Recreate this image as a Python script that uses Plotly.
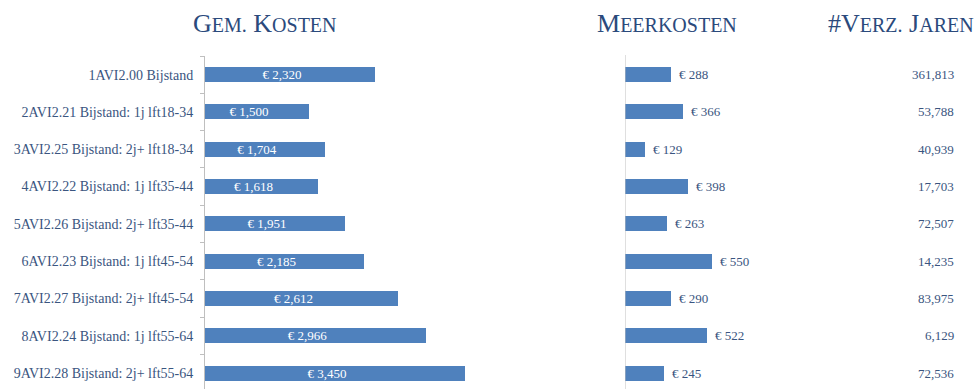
import plotly.graph_objects as go

# Data
categories = [
    "1AVI2.00 Bijstand",
    "2AVI2.21 Bijstand: 1j lft18-34",
    "3AVI2.25 Bijstand: 2j+ lft18-34",
    "4AVI2.22 Bijstand: 1j lft35-44",
    "5AVI2.26 Bijstand: 2j+ lft35-44",
    "6AVI2.23 Bijstand: 1j lft45-54",
    "7AVI2.27 Bijstand: 2j+ lft45-54",
    "8AVI2.24 Bijstand: 1j lft55-64",
    "9AVI2.28 Bijstand: 2j+ lft55-64",
]
gem_kosten = [2320, 1500, 1704, 1618, 1951, 2185, 2612, 2966, 3450]
meerkosten = [288, 366, 129, 398, 263, 550, 290, 522, 245]
verz_jaren = [361813, 53788, 40939, 17703, 72507, 14235, 83975, 6129, 72536]

W, H = 979, 389
FONT = "Liberation Serif"
BAR_COLOR = "#4F81BD"
HEAD_COLOR = "#2B4A7C"
TEXT_COLOR = "#3A5580"
AXIS_COLOR = "#BFBFBF"

# Panel geometry (pixels)
top_px = 56
x1_left, x1_right = 205, 560
x1_start, x1_scale = 200, 0.08          # value at left edge, px per unit
x2_left, x2_right = 625, 800
x2_scale = 0.158
row_h = 37.3


def small_caps(text, big=26, small=20):
    out = []
    for word in text.split(" "):
        lead = ""
        i = 0
        while i < len(word) and not word[i].isalpha():
            lead += word[i]
            i += 1
        if i < len(word):
            lead += word[i].upper()
            rest = word[i + 1:].upper()
        else:
            rest = ""
        piece = f"<span style='font-size:{big}px'>{lead}</span>"
        if rest:
            piece += f"<span style='font-size:{small}px'>{rest}</span>"
        out.append(piece)
    return " ".join(out)


fig = go.Figure()

fig.add_trace(go.Bar(
    x=gem_kosten, y=categories, orientation="h",
    marker=dict(color=BAR_COLOR, line=dict(width=0)),
    width=0.4,
    text=[f"€ {v:,}" for v in gem_kosten],
    textposition="inside", insidetextanchor="middle",
    constraintext="none",
    textfont=dict(family=FONT, size=13, color="white"),
    xaxis="x", yaxis="y", hoverinfo="skip",
))

fig.add_trace(go.Bar(
    x=meerkosten, y=categories, orientation="h",
    marker=dict(color=BAR_COLOR, line=dict(width=0)),
    width=0.4,
    hoverinfo="skip",
    xaxis="x2", yaxis="y",
))

# Value labels to the right of the Meerkosten bars
for cat, v in zip(categories, meerkosten):
    fig.add_annotation(
        x=v, xref="x2", xanchor="left", xshift=6,
        y=cat, yref="y", yanchor="middle",
        text=f"€ {v:,}", showarrow=False,
        font=dict(family=FONT, size=13, color=TEXT_COLOR),
    )

y_top = 1 - top_px / H
y_bottom_idx = -0.5 + (H - top_px) / row_h

fig.update_layout(
    width=W, height=H,
    margin=dict(l=0, r=0, t=0, b=0),
    paper_bgcolor="white", plot_bgcolor="white",
    showlegend=False,
    bargap=0,
    font=dict(family=FONT, color=TEXT_COLOR),
    xaxis=dict(
        domain=[x1_left / W, x1_right / W],
        range=[x1_start, x1_start + (x1_right - x1_left) / x1_scale],
        visible=False, fixedrange=True,
    ),
    xaxis2=dict(
        domain=[x2_left / W, x2_right / W],
        range=[0, (x2_right - x2_left) / x2_scale],
        anchor="y", visible=False, fixedrange=True,
    ),
    yaxis=dict(
        type="category",
        categoryorder="array", categoryarray=categories,
        range=[y_bottom_idx, -0.5],
        domain=[0, y_top],
        anchor="x",
        showline=True, linecolor=AXIS_COLOR, linewidth=1,
        ticks="outside", tickson="boundaries", ticklen=4,
        tickcolor=AXIS_COLOR, tickwidth=1,
        showgrid=False, zeroline=False,
        tickfont=dict(family=FONT, size=14, color=TEXT_COLOR),
        ticklabelstandoff=8,
        fixedrange=True,
    ),
)

# Vertical axis line for the Meerkosten panel
fig.add_shape(type="line", xref="x2", yref="paper",
              x0=0, x1=0, y0=0, y1=1 - 55 / H,
              line=dict(color=AXIS_COLOR, width=1))

# #Verz. Jaren column
for cat, v in zip(categories, verz_jaren):
    fig.add_annotation(
        x=956 / W, xref="paper", xanchor="right",
        y=cat, yref="y", yanchor="middle",
        text=f"{v:,}", showarrow=False,
        font=dict(family=FONT, size=13, color=TEXT_COLOR),
    )

# Column headers
headers = [("Gem. Kosten", 265), ("Meerkosten", 667), ("#Verz. Jaren", 901)]
for label, cx in headers:
    fig.add_annotation(
        x=cx / W, xref="paper", xanchor="center",
        y=1 - 23 / H, yref="paper", yanchor="middle",
        text=small_caps(label), showarrow=False,
        font=dict(family=FONT, size=26, color=HEAD_COLOR),
    )

fig.write_html("out.html")
